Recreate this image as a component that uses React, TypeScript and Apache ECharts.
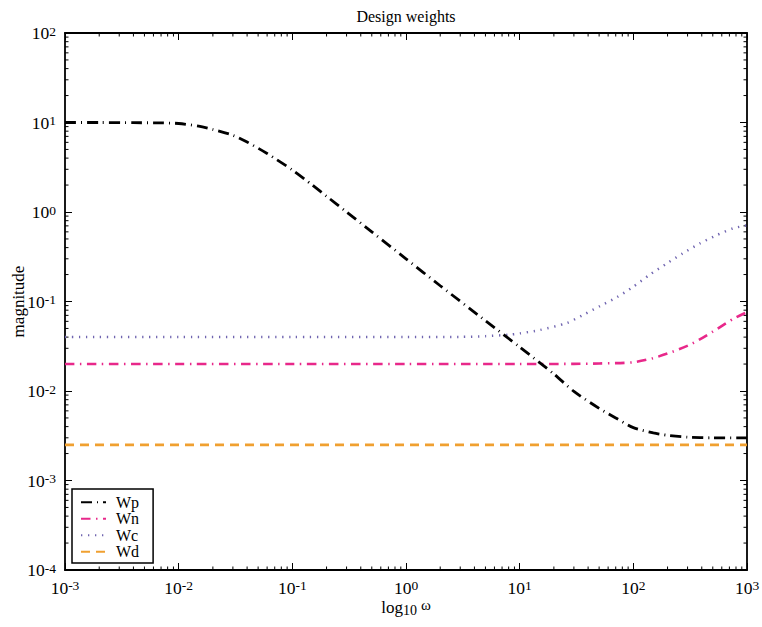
import React, { useEffect, useRef } from 'react';
import * as echarts from 'echarts';

// Frequencies (rad/s) and magnitudes
const wpFreq = [0.001, 0.002, 0.004, 0.007, 0.01, 0.015, 0.02, 0.03, 0.04, 0.06, 0.1, 0.15, 0.2, 0.3, 0.5, 1, 2, 5, 10, 20, 30, 50, 70, 100, 150, 200, 300, 500, 1000];
const wpMag = [10.0, 10.0, 9.95, 9.9, 9.75, 9.1, 8.35, 7.2, 6.05, 4.5, 2.95, 2.0, 1.5, 1.0, 0.6, 0.3, 0.15, 0.061, 0.031, 0.0155, 0.0099, 0.0064, 0.005, 0.0039, 0.0034, 0.0032, 0.00305, 0.003, 0.003];

const wnFreq = [0.001, 0.01, 0.1, 1, 10, 30, 50, 99, 148, 222, 333, 500, 750, 1000];
const wnMag = [0.02, 0.02, 0.02, 0.02, 0.02, 0.0201, 0.0203, 0.0209, 0.0232, 0.0275, 0.0341, 0.046, 0.0635, 0.076];

const wcFreq = [0.001, 0.01, 0.1, 1, 3, 5, 8, 10, 15, 26, 36, 51, 72, 99, 140, 196, 272, 385, 540, 750, 1000];
const wcMag = [0.04, 0.04, 0.04, 0.04, 0.0402, 0.041, 0.0425, 0.044, 0.048, 0.0575, 0.0706, 0.089, 0.112, 0.145, 0.2, 0.265, 0.345, 0.445, 0.55, 0.655, 0.71];

const wdFreq = [0.001, 0.01, 0.1, 1, 10, 100, 1000];
const wdMag = [0.0025, 0.0025, 0.0025, 0.0025, 0.0025, 0.0025, 0.0025];

const seriesNames = ['Wp', 'Wn', 'Wc', 'Wd'];

// Axis ranges and minor-tick positions
const xMin = 1e-3;
const xMax = 1e3;
const yMin = 1e-4;
const yMax = 1e2;
const minorMultipliers = [2, 3, 4, 5, 6, 7, 8, 9];
const xDecades = [1e-3, 1e-2, 1e-1, 1, 10, 100];
const yDecades = [1e-4, 1e-3, 1e-2, 1e-1, 1, 10];

const FONT = '"Liberation Serif", "DejaVu Serif", serif';

const pairs = (f: number[], m: number[]) => f.map((v, i) => [v, m[i]]);

const tickLabel = (v: number) => {
  const e = Math.round(Math.log10(v));
  return `{b|10}{s|${e}}`;
};

const tickRich = {
  b: { fontSize: 17.5, lineHeight: 18, fontFamily: FONT, color: '#000' },
  s: { fontSize: 13.5, lineHeight: 6, verticalAlign: 'top', fontFamily: FONT, color: '#000' },
};

export default function App() {
  const ref = useRef<HTMLDivElement>(null);

  useEffect(() => {
    if (!ref.current) return;
    const chart = echarts.init(ref.current, undefined, { renderer: 'svg' });

    const xMinor: number[][] = [];
    xDecades.forEach((d) => minorMultipliers.forEach((m) => xMinor.push([m * d, 1])));
    const yMinor: number[][] = [];
    yDecades.forEach((d) => minorMultipliers.forEach((m) => yMinor.push([1, m * d])));

    const axisLine = { show: true, lineStyle: { color: '#000', width: 1.8 } };
    const axisTick = { show: true, inside: true, length: 7, lineStyle: { color: '#000', width: 1 } };

    const minorTickStyle = { stroke: '#000', lineWidth: 1 };

    const option: any = {
      animation: false,
      backgroundColor: '#fff',
      title: {
        text: 'Design weights',
        left: 401,
        textAlign: 'center',
        top: 3,
        textStyle: { fontSize: 16, fontWeight: 'normal', fontFamily: FONT, color: '#000' },
      },
      grid: { left: 65, right: 15, top: 33, bottom: 57, containLabel: false, outerBoundsMode: 'none' },
      legend: {
        data: seriesNames,
        orient: 'vertical',
        left: 72,
        top: 489,
        itemWidth: 25,
        itemHeight: 14,
        itemGap: 0,
        padding: [5, 14, 3, 8],
        borderColor: '#000',
        borderWidth: 1.5,
        backgroundColor: '#fff',
        itemStyle: { color: 'rgba(0,0,0,0)', borderWidth: 0, opacity: 0 },
        textStyle: { fontSize: 16, lineHeight: 16.5, fontFamily: FONT, color: '#000', padding: [0, 0, 0, 5] },
      },
      xAxis: [
        {
          type: 'log',
          logBase: 10,
          min: xMin,
          max: xMax,
          position: 'bottom',
          axisLine,
          axisTick,
          splitLine: { show: false },
          axisLabel: { formatter: tickLabel, rich: tickRich, margin: 8.5 },
          name: '{b|log}{sub|10}{w|ω}',
          nameLocation: 'middle',
          nameGap: 27,
          nameMoveOverlap: false,
          nameTextStyle: {
            rich: {
              b: { fontSize: 17, lineHeight: 20, fontFamily: FONT, color: '#000' },
              sub: { fontSize: 14, lineHeight: 8, verticalAlign: 'bottom', fontFamily: FONT, color: '#000' },
              w: { fontSize: 15, lineHeight: 8, verticalAlign: 'top', fontFamily: FONT, color: '#000', padding: [0, 0, 0, 4] },
            },
          },
        },
        {
          type: 'log',
          logBase: 10,
          min: xMin,
          max: xMax,
          position: 'top',
          axisLine,
          axisTick,
          splitLine: { show: false },
          axisLabel: { show: false },
        },
      ],
      yAxis: [
        {
          type: 'log',
          logBase: 10,
          min: yMin,
          max: yMax,
          position: 'left',
          axisLine,
          axisTick,
          splitLine: { show: false },
          axisLabel: { formatter: tickLabel, rich: tickRich, margin: 9 },
          name: 'magnitude',
          nameLocation: 'middle',
          nameGap: 38,
          nameMoveOverlap: false,
          nameTextStyle: { fontSize: 17, fontFamily: FONT, color: '#000' },
        },
        {
          type: 'log',
          logBase: 10,
          min: yMin,
          max: yMax,
          position: 'right',
          axisLine,
          axisTick,
          splitLine: { show: false },
          axisLabel: { show: false },
        },
      ],
      series: [
        {
          name: 'Wp',
          type: 'line',
          data: pairs(wpFreq, wpMag),
          symbol: 'none',
          smooth: 0.25,
          z: 6,
          lineStyle: { color: '#000', width: 2.8, type: [11, 5, 1, 5] },
          itemStyle: { color: '#000' },
        },
        {
          name: 'Wn',
          type: 'line',
          data: pairs(wnFreq, wnMag),
          symbol: 'none',
          smooth: 0.25,
          z: 5,
          lineStyle: { color: '#E8288A', width: 2.6, type: [9.5, 5.5, 1.5, 5.5] },
          itemStyle: { color: '#E8288A' },
        },
        {
          name: 'Wc',
          type: 'line',
          data: pairs(wcFreq, wcMag),
          symbol: 'none',
          smooth: 0.25,
          z: 4,
          lineStyle: { color: '#7065B0', width: 2.5, type: [1.3, 5.7] },
          itemStyle: { color: '#7065B0' },
        },
        {
          name: 'Wd',
          type: 'line',
          data: pairs(wdFreq, wdMag),
          symbol: 'none',
          z: 3,
          lineStyle: { color: '#F0A030', width: 2.6, type: [9, 6] },
          itemStyle: { color: '#F0A030' },
        },
        {
          name: 'xMinorTicks',
          type: 'custom',
          silent: true,
          xAxisIndex: 0,
          yAxisIndex: 0,
          data: xMinor,
          encode: { x: 0, y: 1 },
          renderItem: (params: any, api: any) => {
            const p = api.coord([api.value(0), api.value(1)]);
            const cs = params.coordSys;
            const bottom = cs.y + cs.height;
            return {
              type: 'group',
              children: [
                { type: 'line', shape: { x1: p[0], y1: bottom, x2: p[0], y2: bottom - 3.5 }, style: minorTickStyle },
                { type: 'line', shape: { x1: p[0], y1: cs.y, x2: p[0], y2: cs.y + 3.5 }, style: minorTickStyle },
              ],
            };
          },
        },
        {
          name: 'yMinorTicks',
          type: 'custom',
          silent: true,
          xAxisIndex: 0,
          yAxisIndex: 0,
          data: yMinor,
          encode: { x: 0, y: 1 },
          renderItem: (params: any, api: any) => {
            const p = api.coord([api.value(0), api.value(1)]);
            const cs = params.coordSys;
            const right = cs.x + cs.width;
            return {
              type: 'group',
              children: [
                { type: 'line', shape: { x1: cs.x, y1: p[1], x2: cs.x + 3.5, y2: p[1] }, style: minorTickStyle },
                { type: 'line', shape: { x1: right, y1: p[1], x2: right - 3.5, y2: p[1] }, style: minorTickStyle },
              ],
            };
          },
        },
      ],
    };

    chart.setOption(option);
    return () => chart.dispose();
  }, []);

  return (
    <div
      ref={ref}
      style={{ position: 'fixed', left: 0, top: 0, width: 762, height: 627, background: '#fff' }}
    />
  );
}
